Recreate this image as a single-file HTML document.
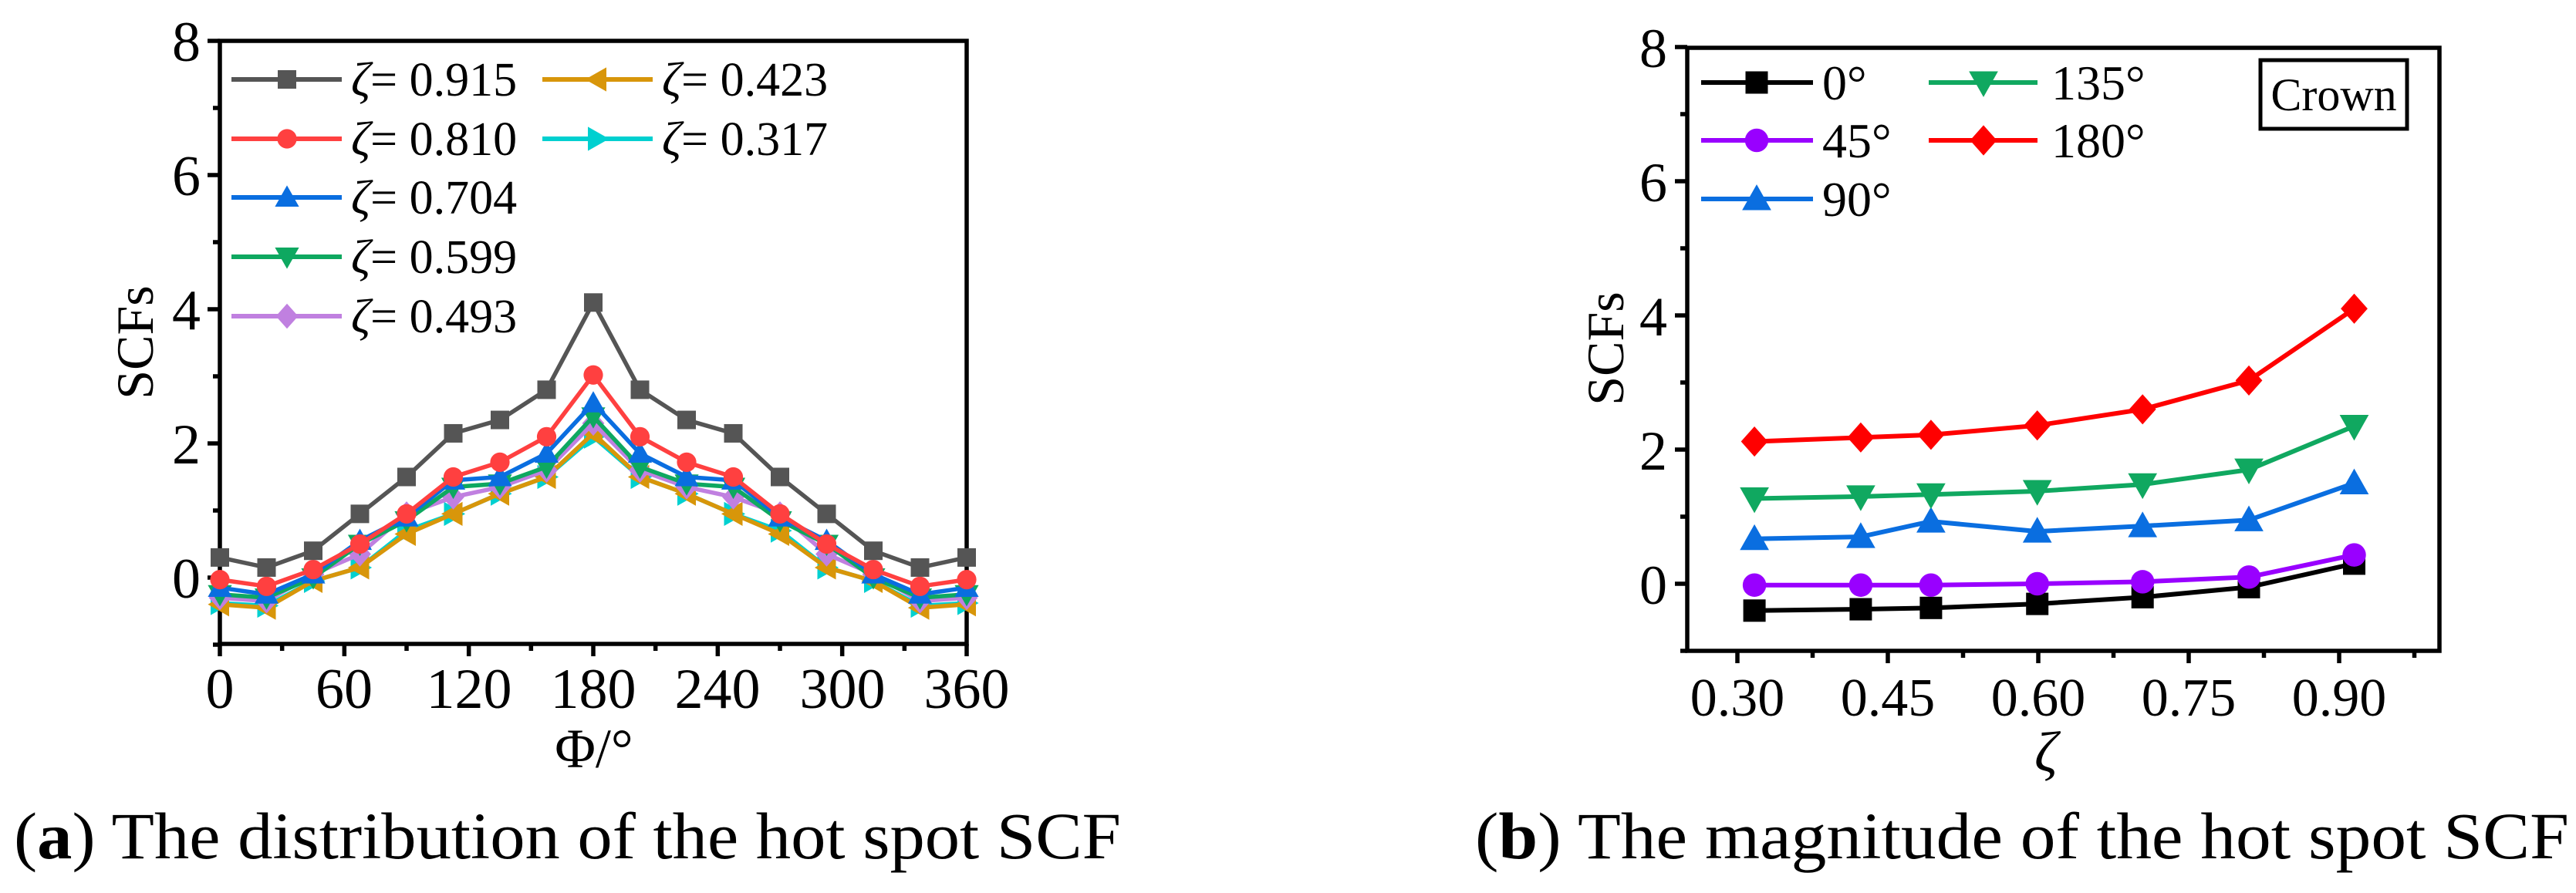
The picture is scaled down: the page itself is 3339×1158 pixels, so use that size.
<!DOCTYPE html>
<html><head><meta charset="utf-8"><style>
html,body{margin:0;padding:0;background:#fff;}
svg{display:block;}
</style></head>
<body>
<svg id="fig" width="3339" height="1158" viewBox="0 0 3339 1158" xmlns="http://www.w3.org/2000/svg">
<g id="pa"></g>
<g id="pb"></g>
<g font-family="Liberation Serif, serif" fill="#000">
  <!-- panel a text -->
  <g font-size="74" text-anchor="middle">
    <text x="285" y="918">0</text><text x="446" y="918">60</text><text x="608" y="918">120</text><text x="769" y="918">180</text><text x="930" y="918">240</text><text x="1092" y="918">300</text><text x="1253" y="918">360</text>
  </g>
  <g font-size="74" text-anchor="end">
    <text x="260" y="775">0</text><text x="260" y="601">2</text><text x="260" y="427">4</text><text x="260" y="253">6</text><text x="260" y="79">8</text>
  </g>
  <text font-size="68" text-anchor="middle" transform="translate(198,444) rotate(-90)">SCFs</text>
  <text x="770" y="995" font-size="72" text-anchor="middle">Φ/°</text>
  <g font-size="62">
    <text x="455" y="124"><tspan font-style="italic">ζ</tspan>= 0.915</text>
    <text x="455" y="201"><tspan font-style="italic">ζ</tspan>= 0.810</text>
    <text x="455" y="277"><tspan font-style="italic">ζ</tspan>= 0.704</text>
    <text x="455" y="354"><tspan font-style="italic">ζ</tspan>= 0.599</text>
    <text x="455" y="431"><tspan font-style="italic">ζ</tspan>= 0.493</text>
    <text x="858" y="124"><tspan font-style="italic">ζ</tspan>= 0.423</text>
    <text x="858" y="201"><tspan font-style="italic">ζ</tspan>= 0.317</text>
  </g>
  <!-- panel b text -->
  <g font-size="70" text-anchor="middle">
    <text x="2252" y="928">0.30</text><text x="2447" y="928">0.45</text><text x="2642" y="928">0.60</text><text x="2837" y="928">0.75</text><text x="3032" y="928">0.90</text>
  </g>
  <g font-size="72" text-anchor="end">
    <text x="2161" y="783">0</text><text x="2161" y="609">2</text><text x="2161" y="435">4</text><text x="2161" y="261">6</text><text x="2161" y="87">8</text>
  </g>
  <text font-size="68" text-anchor="middle" transform="translate(2104,452) rotate(-90)">SCFs</text>
  <text x="2652" y="1000" font-size="74" font-style="italic" text-anchor="middle">ζ</text>
  <g font-size="64">
    <text x="2362" y="129">0°</text><text x="2362" y="204">45°</text><text x="2362" y="280">90°</text>
    <text x="2659" y="129">135°</text><text x="2659" y="204">180°</text>
  </g>
  <g>
    <rect x="2930" y="78" width="190" height="89" fill="#fff" stroke="#000" stroke-width="5"/>
    <text x="3025" y="143" font-size="60" text-anchor="middle">Crown</text>
  </g>
  <text x="18" y="1113" font-size="86" textLength="1435" lengthAdjust="spacingAndGlyphs">(<tspan font-weight="bold">a</tspan>) The distribution of the hot spot SCF</text>
  <text x="1912" y="1113" font-size="86" textLength="1418" lengthAdjust="spacingAndGlyphs">(<tspan font-weight="bold">b</tspan>) The magnitude of the hot spot SCF</text>
</g>
</svg>
<script>
// ---- Panel (a) data ----
const phiA = [0,22.5,45,67.5,90,112.5,135,157.5,180,202.5,225,247.5,270,292.5,315,337.5,360];
const zetaLabelsA = ["0.915","0.810","0.704","0.599","0.493","0.423","0.317"];
const s915 = [0.3,0.15,0.4,0.95,1.5,2.15,2.35,2.8,4.1,2.8,2.35,2.15,1.5,0.95,0.4,0.15,0.3];
const s810 = [-0.03,-0.13,0.12,0.5,0.95,1.5,1.72,2.1,3.02,2.1,1.72,1.5,0.95,0.5,0.12,-0.13,-0.03];
const s704 = [-0.15,-0.25,0.05,0.55,0.9,1.45,1.5,1.85,2.6,1.85,1.5,1.45,0.9,0.55,0.05,-0.25,-0.15];
const s599 = [-0.25,-0.3,0.0,0.5,0.85,1.35,1.4,1.65,2.4,1.65,1.4,1.35,0.85,0.5,0.0,-0.3,-0.25];
const s493 = [-0.3,-0.35,0.05,0.35,0.95,1.2,1.35,1.6,2.3,1.6,1.35,1.2,0.95,0.35,0.05,-0.35,-0.3];
const s423 = [-0.4,-0.45,-0.05,0.15,0.65,0.95,1.25,1.5,2.15,1.5,1.25,0.95,0.65,0.15,-0.05,-0.45,-0.4];
const s317 = [-0.38,-0.42,-0.05,0.15,0.7,0.95,1.25,1.5,2.1,1.5,1.25,0.95,0.7,0.15,-0.05,-0.42,-0.38];
// ---- Panel (b) data ----
const zetaB = [0.317,0.423,0.493,0.599,0.704,0.810,0.915];
const angleLabelsB = ["0°","45°","90°","135°","180°"];
const b0 = [-0.4,-0.38,-0.36,-0.3,-0.2,-0.05,0.3];
const b45 = [-0.02,-0.02,-0.02,0.0,0.03,0.1,0.43];
const b90 = [0.67,0.7,0.93,0.78,0.86,0.95,1.5];
const b135 = [1.27,1.3,1.33,1.38,1.48,1.7,2.35];
const b180 = [2.12,2.18,2.22,2.36,2.6,3.03,4.1];

const NS="http://www.w3.org/2000/svg";
function mk(parent,tag,attrs){const e=document.createElementNS(NS,tag);for(const k in attrs)e.setAttribute(k,attrs[k]);parent.appendChild(e);return e;}

function marker(g,type,x,y,color,s){
  let e;
  if(type==="square"){e=mk(g,"rect",{x:x-s,y:y-s,width:2*s,height:2*s,fill:color});}
  else if(type==="circle"){e=mk(g,"circle",{cx:x,cy:y,r:s*1.05,fill:color});}
  else if(type==="up"){e=mk(g,"polygon",{points:`${x},${y-s*1.3} ${x+s*1.3},${y+s} ${x-s*1.3},${y+s}`,fill:color});}
  else if(type==="down"){e=mk(g,"polygon",{points:`${x},${y+s*1.3} ${x+s*1.3},${y-s} ${x-s*1.3},${y-s}`,fill:color});}
  else if(type==="diamond"){e=mk(g,"polygon",{points:`${x},${y-s*1.35} ${x+s*1.2},${y} ${x},${y+s*1.35} ${x-s*1.2},${y}`,fill:color});}
  else if(type==="left"){e=mk(g,"polygon",{points:`${x-s*1.3},${y} ${x+s},${y-s*1.3} ${x+s},${y+s*1.3}`,fill:color});}
  else if(type==="right"){e=mk(g,"polygon",{points:`${x+s*1.3},${y} ${x-s},${y-s*1.3} ${x-s},${y+s*1.3}`,fill:color});}
  return e;
}

// ===== Panel A =====
(function(){
  const g=document.getElementById('pa');
  const L=285,R=1253,T=53,B=835,y0=749,unit=87;
  const X=v=>L+(v-0)/360*(R-L);
  const Y=v=>y0-v*unit;
  const frame=mk(g,"rect",{x:L,y:T,width:R-L,height:B-T,fill:"none",stroke:"#000","stroke-width":5.5});
  
  
  for(let v=0;v<=360;v+=30){
    const major=v%60===0;
    const t=mk(g,"line",{x1:X(v),x2:X(v),y1:B,y2:B+(major?16:9),stroke:"#000","stroke-width":5.5});
    
    
  }
  for(let v=-1;v<=8;v++){
    const major=v%2===0;
    const t=mk(g,"line",{x1:L-(major?16:9),x2:L,y1:Y(v),y2:Y(v),stroke:"#000","stroke-width":5.5});
    
    
  }
  const series=[s915,s810,s704,s599,s493,s423,s317];
  const colors=["#555555","#ff4040","#0a6ee0","#0ea860","#c080e0","#d8960a","#00d0d0"];
  const marks=["square","circle","up","down","diamond","left","right"];
  [6,5,4,3,2,1,0].forEach(i=>{
    const sg=mk(g,"g",{});
    
    
    const pts=phiA.map((p,j)=>X(p)+","+Y(series[i][j])).join(" ");
    mk(sg,"polyline",{points:pts,fill:"none",stroke:colors[i],"stroke-width":5.5,"stroke-linejoin":"round"});
    phiA.forEach((p,j)=>{
      const m=marker(sg,marks[i],X(p),Y(series[i][j]),colors[i],12);
      
      
    });
  });
  const lg=mk(g,"g",{});
  
  
  const rows=[103,180,256,333,410];
  for(let i=0;i<7;i++){
    const col=i<5?0:1, row=i<5?i:i-5;
    const x1=col?703:300, x2=col?846:443, mx=col?774:372, y=rows[row];
    const eg=mk(lg,"g",{});
    
    
    mk(eg,"line",{x1:x1,x2:x2,y1:y,y2:y,stroke:colors[i],"stroke-width":6});
    marker(eg,marks[i],mx,y,colors[i],12);
  }
})();

// ===== Panel B =====
(function(){
  const g=document.getElementById('pb');
  const L=2187,R=3162,T=62,B=844,y0=757,unit=87;
  const X=v=>L+(v-0.25)*1300;
  const Y=v=>y0-v*unit;
  const frame=mk(g,"rect",{x:L,y:T,width:R-L,height:B-T,fill:"none",stroke:"#000","stroke-width":5.5});
  
  
  for(let k=0;k<=9;k++){
    const v=0.30+k*0.075; if(v>1.0)break;
    const major=k%2===0;
    const t=mk(g,"line",{x1:X(v),x2:X(v),y1:B,y2:B+(major?16:9),stroke:"#000","stroke-width":5.5});
    
    
  }
  for(let v=-1;v<=8;v++){
    const major=v%2===0;
    const t=mk(g,"line",{x1:L-(major?16:9),x2:L,y1:Y(v),y2:Y(v),stroke:"#000","stroke-width":5.5});
    
    
  }
  const series=[b0,b45,b90,b135,b180];
  const colors=["#000000","#9900ff","#0a6ee0","#10a860","#ff0000"];
  const marks=["square","circle","up","down","diamond"];
  [0,1,2,3,4].forEach(i=>{
    const sg=mk(g,"g",{});
    
    
    const pts=zetaB.map((z,j)=>X(z)+","+Y(series[i][j])).join(" ");
    mk(sg,"polyline",{points:pts,fill:"none",stroke:colors[i],"stroke-width":6,"stroke-linejoin":"round"});
    zetaB.forEach((z,j)=>{
      const m=marker(sg,marks[i],X(z),Y(series[i][j]),colors[i],14.5);
      
      
    });
  });
  const lg=mk(g,"g",{});
  
  
  const rows=[107,182,258];
  for(let i=0;i<5;i++){
    const col=i<3?0:1,row=i<3?i:i-3;
    const x1=col?2500:2205,x2=col?2641:2350,mx=col?2571:2277,y=rows[row];
    const eg=mk(lg,"g",{});
    
    
    mk(eg,"line",{x1:x1,x2:x2,y1:y,y2:y,stroke:colors[i],"stroke-width":6});
    marker(eg,marks[i],mx,y,colors[i],14.5);
  }
})();
</script>
</body></html>
